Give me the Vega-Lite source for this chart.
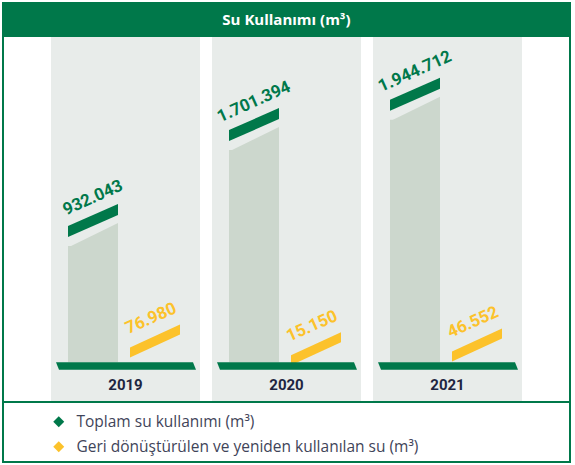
{
  "$schema": "https://vega.github.io/schema/vega-lite/v6.json",
  "width": 567,
  "height": 459,
  "autosize": "none",
  "padding": {"left": 3, "top": 3, "right": 5, "bottom": 3},
  "background": "white",
  "config": {
    "locale": {"number": {"decimal": ",", "thousands": ".", "grouping": [3], "currency": ["", " TL"]}},
    "view": {"stroke": "#00784a", "strokeWidth": 2},
    "font": "Roboto"
  },
  "data": {
    "values": [
      {"year": "2019", "metric": "Toplam su kullanımı (m³)", "value": 932043},
      {"year": "2020", "metric": "Toplam su kullanımı (m³)", "value": 1701394},
      {"year": "2021", "metric": "Toplam su kullanımı (m³)", "value": 1944712},
      {"year": "2019", "metric": "Geri dönüştürülen ve yeniden kullanılan su (m³)", "value": 76980},
      {"year": "2020", "metric": "Geri dönüştürülen ve yeniden kullanılan su (m³)", "value": 15150},
      {"year": "2021", "metric": "Geri dönüştürülen ve yeniden kullanılan su (m³)", "value": 46552}
    ]
  },
  "layer": [
    {
      "data": {"values": [{}]},
      "mark": {"type": "rect", "color": "#00784a"},
      "encoding": {
        "x": {"value": 0},
        "x2": {"value": "width"},
        "y": {
          "datum": 2880000,
          "scale": {"domain": [-800000, 2880000], "nice": false, "zero": false},
          "axis": {
            "values": [0, 550000, 1100000, 1650000, 2200000],
            "grid": true, "gridColor": "#eeeeee", "gridWidth": 2,
            "domain": false, "ticks": false, "labels": false, "title": null
          }
        },
        "y2": {"datum": 2607000}
      }
    },
    {
      "transform": [{"filter": "datum.metric == 'Toplam su kullanımı (m³)'"}],
      "mark": {"type": "bar", "color": "#e8ecea"},
      "encoding": {
        "x": {"field": "year", "type": "nominal", "axis": null,
              "scale": {"paddingInner": 0.0745, "paddingOuter": 0.298}},
        "y": {"datum": 2607000, "axis": null},
        "y2": {"datum": -311000}
      }
    },
    {
      "transform": [{"filter": "datum.metric == 'Toplam su kullanımı (m³)'"}],
      "mark": {"type": "bar", "color": "#ccd7cd", "width": 50, "xOffset": -32.5},
      "encoding": {
        "x": {"field": "year", "type": "nominal", "axis": null},
        "y": {"field": "value", "type": "quantitative", "axis": null}
      }
    },
    {
      "transform": [{"filter": "datum.metric == 'Toplam su kullanımı (m³)'"}],
      "mark": {"type": "point", "shape": "M -1 0.06 L 1 0.06 L 1 -0.92 Z", "size": 2500,
               "filled": true, "opacity": 1, "strokeWidth": 0, "color": "#ccd7cd", "xOffset": -32.5},
      "encoding": {
        "x": {"field": "year", "type": "nominal", "axis": null},
        "y": {"field": "value", "type": "quantitative", "axis": null}
      }
    },
    {
      "transform": [{"filter": "datum.metric == 'Toplam su kullanımı (m³)'"}],
      "mark": {"type": "point", "shape": "M -1 -0.36 L -1 -0.8 L 1 -1.68 L 1 -1.24 Z", "size": 2500,
               "filled": true, "opacity": 1, "strokeWidth": 0, "xOffset": -32.5},
      "encoding": {
        "x": {"field": "year", "type": "nominal", "axis": null},
        "y": {"field": "value", "type": "quantitative", "axis": null},
        "color": {
          "field": "metric", "type": "nominal",
          "scale": {
            "domain": ["Toplam su kullanımı (m³)", "Geri dönüştürülen ve yeniden kullanılan su (m³)"],
            "range": ["#00784a", "#fcc22b"]
          },
          "legend": {
            "orient": "none", "legendX": 48, "legendY": 411, "title": null,
            "symbolType": "diamond", "symbolSize": 120, "symbolOpacity": 1, "symbolStrokeWidth": 0,
            "labelFont": "Open Sans", "labelFontSize": 15.5, "labelColor": "#3f4459",
            "labelOffset": 10, "labelLimit": 500, "rowPadding": 8
          }
        }
      }
    },
    {
      "transform": [{"filter": "datum.metric != 'Toplam su kullanımı (m³)'"}],
      "mark": {"type": "point", "shape": "M -1 0 L -1 -0.4 L 1 -1.32 L 1 -0.92 Z", "size": 2500,
               "filled": true, "opacity": 1, "strokeWidth": 0, "xOffset": 29.5, "yOffset": 5},
      "encoding": {
        "x": {"field": "year", "type": "nominal", "axis": null},
        "y": {"field": "value", "type": "quantitative", "axis": null},
        "color": {"field": "metric", "type": "nominal"}
      }
    },
    {
      "transform": [{"filter": "datum.metric == 'Toplam su kullanımı (m³)'"}],
      "mark": {"type": "point", "shape": "M -2.78 0 L 2.7 0 L 2.82 0.3 L -2.66 0.3 Z", "size": 2500,
               "filled": true, "opacity": 1, "strokeWidth": 0, "color": "#00784a"},
      "encoding": {
        "x": {"field": "year", "type": "nominal", "axis": null},
        "y": {"datum": 0, "axis": null}
      }
    },
    {
      "transform": [{"filter": "datum.metric == 'Toplam su kullanımı (m³)'"}],
      "mark": {"type": "text", "angle": 336, "align": "center", "baseline": "middle",
               "fontSize": 17, "fontWeight": "bold", "color": "#00784a",
               "xOffset": -32.5, "yOffset": -48},
      "encoding": {
        "x": {"field": "year", "type": "nominal", "axis": null},
        "y": {"field": "value", "type": "quantitative", "axis": null},
        "text": {"field": "value", "type": "quantitative", "format": ",d"}
      }
    },
    {
      "transform": [{"filter": "datum.metric != 'Toplam su kullanımı (m³)'"}],
      "mark": {"type": "text", "angle": 336, "align": "center", "baseline": "middle",
               "fontSize": 17, "fontWeight": "bold", "color": "#fcc22b",
               "xOffset": 25.5, "yOffset": -34},
      "encoding": {
        "x": {"field": "year", "type": "nominal", "axis": null},
        "y": {"field": "value", "type": "quantitative", "axis": null},
        "text": {"field": "value", "type": "quantitative", "format": ",d"}
      }
    },
    {
      "transform": [{"filter": "datum.metric == 'Toplam su kullanımı (m³)'"}],
      "mark": {"type": "text", "align": "center", "baseline": "middle",
               "fontSize": 15, "fontWeight": "bold", "color": "#1e2541"},
      "encoding": {
        "x": {"field": "year", "type": "nominal", "axis": null},
        "y": {"datum": -185000, "axis": null},
        "text": {"field": "year"}
      }
    },
    {
      "data": {"values": [{}]},
      "mark": {"type": "rule", "color": "#00784a", "strokeWidth": 2},
      "encoding": {
        "x": {"value": 0},
        "x2": {"value": "width"},
        "y": {"datum": -319000, "axis": null}
      }
    },
    {
      "data": {"values": [{"title": "Su Kullanımı (m³)"}]},
      "mark": {"type": "text", "align": "center", "baseline": "middle", "font": "Open Sans",
               "fontSize": 15, "fontWeight": "bold", "color": "white"},
      "encoding": {
        "y": {"datum": 2744000, "axis": null},
        "text": {"field": "title"}
      }
    }
  ]
}
